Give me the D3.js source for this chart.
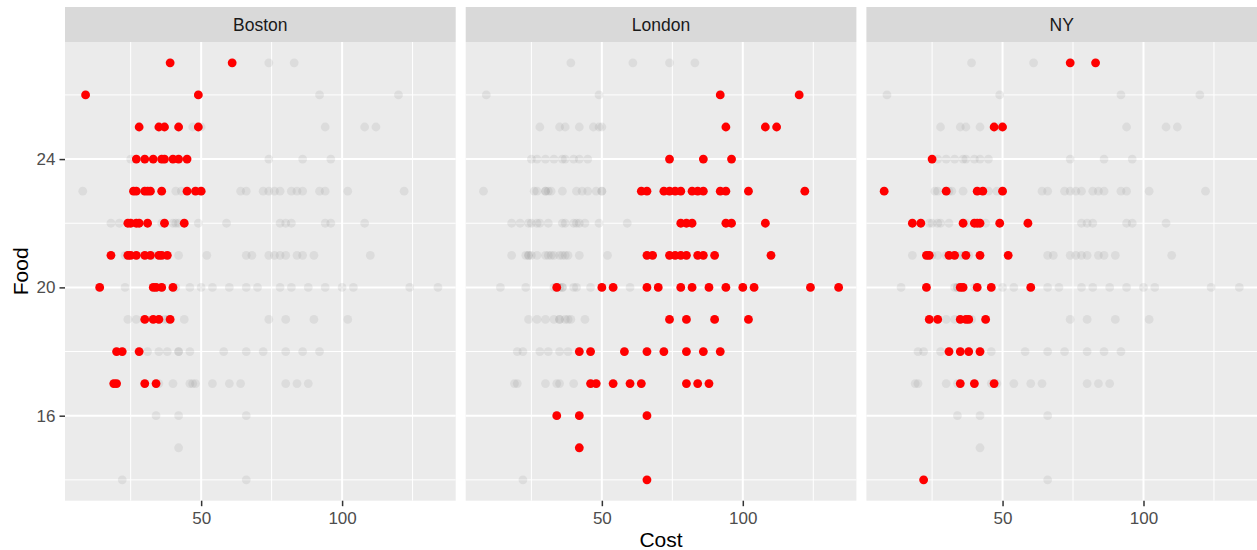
<!DOCTYPE html>
<html>
<head>
<meta charset="utf-8">
<script src="https://d3js.org/d3.v7.min.js"></script>
<style>
  body { margin: 0; background: white; }
  text { font-family: "Liberation Sans", Arial, Helvetica, sans-serif; }
</style>
</head>
<body>
<div id="container"></div>
<script>
let w = 1257;
let h = 550;

let cities = ["Boston", "London", "NY"];

// Boston restaurants
let bostonCost = [39, 61, 9, 49, 28, 35, 37, 42, 49,
  27, 30, 33, 36, 37, 40, 42, 45,
  26, 27, 30, 31, 32, 36, 45, 48, 50,
  24, 25, 27, 28, 31, 37, 44,
  18, 24, 25, 27, 30, 32, 35, 36, 38,
  14, 33, 34, 36, 40,
  30, 33, 35, 39,
  20, 22, 28,
  19, 20, 30, 34];
let bostonFood = [27, 27, 26, 26, 25, 25, 25, 25, 25,
  24, 24, 24, 24, 24, 24, 24, 24,
  23, 23, 23, 23, 23, 23, 23, 23, 23,
  22, 22, 22, 22, 22, 22, 22,
  21, 21, 21, 21, 21, 21, 21, 21, 21,
  20, 20, 20, 20, 20,
  19, 19, 19, 19,
  18, 18, 18,
  17, 17, 17, 17];

// London restaurants
let londonCost = [92, 120, 94, 108, 112, 74, 86, 96,
  64, 66, 72, 74, 76, 78, 82, 84, 86, 92, 94, 102, 122,
  78, 80, 82, 94, 96, 108,
  66, 68, 74, 76, 78, 80, 84, 86, 90, 110,
  34, 50, 54, 66, 70, 78, 82, 88, 94, 100, 104, 124, 134,
  74, 80, 90, 102,
  42, 46, 58, 66, 72, 80, 86, 92,
  46, 48, 54, 60, 64, 80, 84, 88,
  34, 42, 66, 42, 66];
let londonFood = [26, 26, 25, 25, 25, 24, 24, 24,
  23, 23, 23, 23, 23, 23, 23, 23, 23, 23, 23, 23, 23,
  22, 22, 22, 22, 22, 22,
  21, 21, 21, 21, 21, 21, 21, 21, 21, 21,
  20, 20, 20, 20, 20, 20, 20, 20, 20, 20, 20, 20, 20,
  19, 19, 19, 19,
  18, 18, 18, 18, 18, 18, 18, 18,
  17, 17, 17, 17, 17, 17, 17, 17,
  16, 16, 16, 15, 14];

// NY restaurants
let nyCost = [74, 83, 47, 50, 25,
  8, 30, 41, 43, 50,
  18, 21, 36, 40, 41, 42, 49, 59,
  23, 24, 31, 33, 37, 42, 52,
  23, 35, 36, 41, 46, 60,
  24, 27, 35, 37, 38, 44,
  31, 35, 38, 42,
  35, 40, 47,
  22];
let nyFood = [27, 27, 25, 25, 24,
  23, 23, 23, 23, 23,
  22, 22, 22, 22, 22, 22, 22, 22,
  21, 21, 21, 21, 21, 21, 21,
  20, 20, 20, 20, 20, 20,
  19, 19, 19, 19, 19, 19,
  18, 18, 18, 18,
  17, 17, 17,
  14];

let xTicks = [50, 100];
let xMinor = [25, 75, 125];
let yTicks = [16, 20, 24];
let yMinor = [14, 18, 22, 26];

function makeRows(city, costs, foods){
  return costs.map(function(c, i){
    return {city: city, cost: c, food: foods[i]};
  });
}
let allData = makeRows("Boston", bostonCost, bostonFood)
  .concat(makeRows("London", londonCost, londonFood))
  .concat(makeRows("NY", nyCost, nyFood));

let viz = d3.select("#container")
  .append("svg")
    .attr("width", w)
    .attr("height", h)
;

let panelLeft = 65;
let panelW = 390.7;
let gap = 10;
let stripTop = 7;
let panelTop = 42;
let panelBottom = 500.7;

// ggplot style 5% expansion
function expand(ext){
  let pad = (ext[1] - ext[0]) * 0.05;
  return [ext[0] - pad, ext[1] + pad];
}

let xScale = d3.scaleLinear()
  .domain(expand(d3.extent(allData, function(d){ return d.cost; })))
  .range([0, panelW]);
let yScale = d3.scaleLinear()
  .domain(expand(d3.extent(allData, function(d){ return d.food; })))
  .range([panelBottom, panelTop]);

cities.forEach(function(city, k){
  let px = panelLeft + k * (panelW + gap);
  let panel = viz.append("g")
    .attr("class", "panel")
    .attr("transform", "translate(" + px + ",0)");

  panel.append("rect")
    .attr("x", 0).attr("y", panelTop)
    .attr("width", panelW).attr("height", panelBottom - panelTop)
    .attr("fill", "#EBEBEB");

  // grid
  panel.selectAll(".vminor").data(xMinor).enter()
    .append("line")
      .attr("x1", xScale).attr("x2", xScale)
      .attr("y1", panelTop).attr("y2", panelBottom)
      .attr("stroke", "white").attr("stroke-width", 1);
  panel.selectAll(".hminor").data(yMinor).enter()
    .append("line")
      .attr("y1", yScale).attr("y2", yScale)
      .attr("x1", 0).attr("x2", panelW)
      .attr("stroke", "white").attr("stroke-width", 1);
  panel.selectAll(".vmajor").data(xTicks).enter()
    .append("line")
      .attr("x1", xScale).attr("x2", xScale)
      .attr("y1", panelTop).attr("y2", panelBottom)
      .attr("stroke", "white").attr("stroke-width", 2);
  panel.selectAll(".hmajor").data(yTicks).enter()
    .append("line")
      .attr("y1", yScale).attr("y2", yScale)
      .attr("x1", 0).attr("x2", panelW)
      .attr("stroke", "white").attr("stroke-width", 2);

  // every restaurant in grey
  panel.selectAll(".bg").data(allData).enter()
    .append("circle")
      .attr("cx", function(d){ return xScale(d.cost); })
      .attr("cy", function(d){ return yScale(d.food); })
      .attr("r", 4.4)
      .attr("fill", "#7F7F7F")
      .attr("fill-opacity", 0.13);

  // this city in red
  panel.selectAll(".hl").data(allData.filter(function(d){ return d.city == city; })).enter()
    .append("circle")
      .attr("cx", function(d){ return xScale(d.cost); })
      .attr("cy", function(d){ return yScale(d.food); })
      .attr("r", 4.4)
      .attr("fill", "red");

  // strip
  panel.append("rect")
    .attr("x", 0).attr("y", stripTop)
    .attr("width", panelW).attr("height", panelTop - stripTop)
    .attr("fill", "#D9D9D9");
  panel.append("text")
    .text(city)
    .attr("x", panelW / 2).attr("y", 31)
    .attr("text-anchor", "middle")
    .attr("font-size", 17.5)
    .attr("fill", "#1A1A1A");

  // x axis
  let xAxis = panel.append("g")
    .attr("transform", "translate(0," + panelBottom + ")")
    .call(d3.axisBottom(xScale).tickValues(xTicks).tickSize(5.5).tickPadding(6));
  xAxis.select(".domain").remove();
  xAxis.selectAll("line").attr("stroke", "#333333").attr("stroke-width", 1.5);
  xAxis.selectAll("text").attr("font-size", 17).attr("fill", "#4D4D4D")
    .attr("font-family", "Liberation Sans, Arial, sans-serif");

  if (k == 0){
    let yAxis = panel.append("g")
      .call(d3.axisLeft(yScale).tickValues(yTicks).tickSize(5.5).tickPadding(4));
    yAxis.select(".domain").remove();
    yAxis.selectAll("line").attr("stroke", "#333333").attr("stroke-width", 1.5);
    yAxis.selectAll("text").attr("font-size", 17).attr("fill", "#4D4D4D")
      .attr("font-family", "Liberation Sans, Arial, sans-serif");
  }
});

viz.append("text")
  .text("Cost")
  .attr("x", panelLeft + (3 * panelW + 2 * gap) / 2)
  .attr("y", 546.5)
  .attr("text-anchor", "middle")
  .attr("font-size", 21)
  .attr("fill", "black");

viz.append("text")
  .text("Food")
  .attr("transform", "translate(27.5," + (panelTop + panelBottom) / 2 + ") rotate(-90)")
  .attr("text-anchor", "middle")
  .attr("font-size", 21)
  .attr("fill", "black");
</script>
</body>
</html>
